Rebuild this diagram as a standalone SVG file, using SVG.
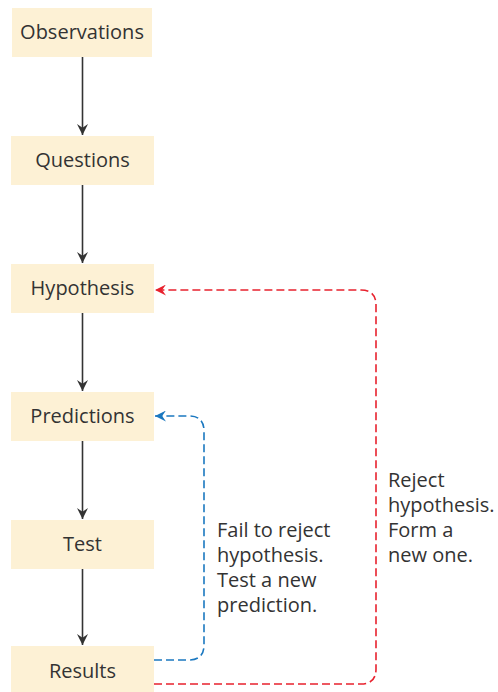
<svg xmlns="http://www.w3.org/2000/svg" width="498" height="692" viewBox="0 0 498 692">
<style>
.box{fill:#fdf1d5}
.lbl{font-family:"Open Sans","Noto Sans",sans-serif;font-size:20px;fill:#333;text-anchor:middle}
.note{font-family:"Open Sans","Noto Sans",sans-serif;font-size:20px;fill:#333}
.arr{stroke:#333;stroke-width:1.6;fill:none}
.red{stroke:#e8222e;stroke-width:1.6;fill:none;stroke-dasharray:8,4}
.blue{stroke:#1b78c0;stroke-width:1.6;fill:none;stroke-dasharray:8,4}
</style>
<defs>
<marker id="ahr" viewBox="0 0 10 10" refX="10" refY="5" markerWidth="11" markerHeight="11" orient="auto" markerUnits="userSpaceOnUse"><path d="M0,0 L10,5 L0,10 L3.5,5 Z" fill="#e8222e"/></marker>
<marker id="ahb" viewBox="0 0 10 10" refX="10" refY="5" markerWidth="11" markerHeight="11" orient="auto" markerUnits="userSpaceOnUse"><path d="M0,0 L10,5 L0,10 L3.5,5 Z" fill="#1b78c0"/></marker>
<marker id="ahk" viewBox="0 0 10 10" refX="10" refY="5" markerWidth="11" markerHeight="11" orient="auto" markerUnits="userSpaceOnUse"><path d="M0,0 L10,5 L0,10 L3.5,5 Z" fill="#333"/></marker>
</defs>
<g id="connectors">
<line class="arr" x1="82.5" y1="57" x2="82.5" y2="135" marker-end="url(#ahk)"/>
<line class="arr" x1="82.5" y1="185" x2="82.5" y2="263" marker-end="url(#ahk)"/>
<line class="arr" x1="82.5" y1="313" x2="82.5" y2="391" marker-end="url(#ahk)"/>
<line class="arr" x1="82.5" y1="441" x2="82.5" y2="519" marker-end="url(#ahk)"/>
<line class="arr" x1="82.5" y1="569" x2="82.5" y2="645" marker-end="url(#ahk)"/>
<path class="blue" d="M154,660 H189 Q204,660 204,645 V431 Q204,416 189,416 H155" marker-end="url(#ahb)"/>
<path class="red" d="M154,684 H361 Q376,684 376,669 V305 Q376,290 361,290 H155" marker-end="url(#ahr)"/>
</g>
<g id="observations"><rect class="box" x="12" y="8" width="140" height="49"/><text class="lbl" x="82" y="39">Observations</text></g>
<g id="questions"><rect class="box" x="11" y="136" width="143" height="49"/><text class="lbl" x="82.5" y="167">Questions</text></g>
<g id="hypothesis"><rect class="box" x="11" y="264" width="143" height="49"/><text class="lbl" x="82.5" y="295">Hypothesis</text></g>
<g id="predictions"><rect class="box" x="11" y="392" width="143" height="49"/><text class="lbl" x="82.5" y="423">Predictions</text></g>
<g id="test"><rect class="box" x="11" y="520" width="143" height="49"/><text class="lbl" x="82.5" y="551">Test</text></g>
<g id="results"><rect class="box" x="11" y="646" width="143" height="46"/><text class="lbl" x="82.5" y="678">Results</text></g>
<g id="note-blue"><text class="note" x="217" y="537">Fail to reject</text><text class="note" x="217" y="562">hypothesis.</text><text class="note" x="217" y="587">Test a new</text><text class="note" x="217" y="612">prediction.</text></g>
<g id="note-red"><text class="note" x="388" y="487">Reject</text><text class="note" x="388" y="512">hypothesis.</text><text class="note" x="388" y="537">Form a</text><text class="note" x="388" y="562">new one.</text></g>
</svg>
